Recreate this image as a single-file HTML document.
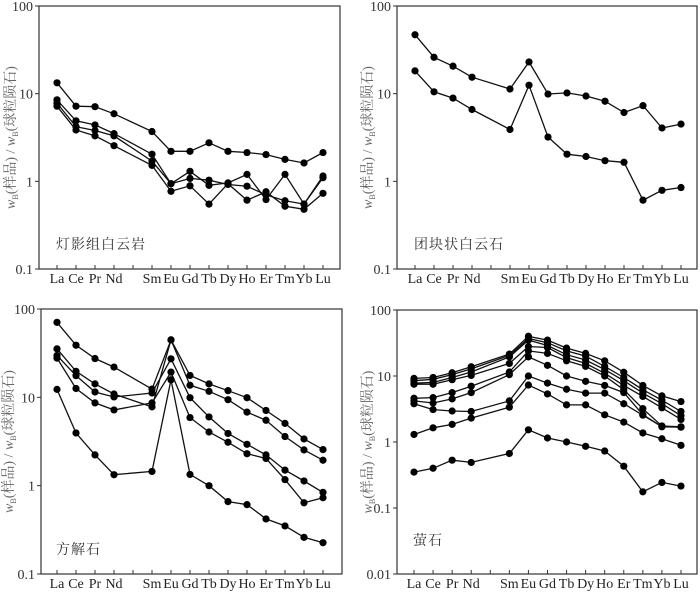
<!DOCTYPE html>
<html><head><meta charset="utf-8"><style>
html,body{margin:0;padding:0;background:#fff;}
svg{display:block;}
text{font-family:"Liberation Serif","Noto Serif CJK SC",serif;}
</style></head><body>
<svg id="chart" width="700" height="592" viewBox="0 0 700 592"></svg>
<script>
const elements = ["La","Ce","Pr","Nd","Sm","Eu","Gd","Tb","Dy","Ho","Er","Tm","Yb","Lu"];
const slotIndex = [0,1,2,3,5,6,7,8,9,10,11,12,13,14];
const xLabels = ["La","Ce","Pr","Nd","Sm","Eu","Gd","Tb","Dy","Ho","Er","Tm","Yb","Lu"];
const ticksA = [100,10,1,0.1];
const ticksB = [100,10,1,0.1,0.01];
const tickLabelsA = ["100","10","1","0.1"];
const tickLabelsB = ["100","10","1","0.1","0.01"];

const dengying1 = [13.3,7.2,7.1,5.9,3.7,2.2,2.2,2.75,2.2,2.13,2.02,1.78,1.62,2.13];
const dengying2 = [8.5,4.9,4.4,3.5,2.04,0.94,1.3,0.9,0.96,1.2,0.62,1.2,0.55,1.15];
const dengying3 = [7.8,4.2,3.8,3.3,1.7,0.94,1.08,1.03,0.92,0.88,0.7,0.6,0.55,1.1];
const dengying4 = [7.2,3.85,3.3,2.55,1.52,0.77,0.89,0.55,0.94,0.61,0.76,0.52,0.48,0.73];

const tuankuai1 = [47,26,20.6,15.4,11.3,23,9.9,10.2,9.4,8.2,6.1,7.3,4.06,4.5];
const tuankuai2 = [18.2,10.5,8.9,6.6,3.9,12.5,3.2,2.04,1.92,1.72,1.65,0.61,0.79,0.85];

const calcite1 = [70.6,38.9,27.5,22,12.4,44.7,17.7,14.2,11.9,9.9,7.1,5.07,3.38,2.56];
const calcite2 = [35.4,19.7,14.2,10.9,7.8,44.7,13.7,11.7,9.4,6.8,5.5,3.6,2.54,1.94];
const calcite3 = [29.8,17.6,11.5,10.1,11.2,27.3,9.9,6.0,3.9,2.94,2.23,1.5,1.13,0.84];
const calcite4 = [27.8,12.6,8.65,7.2,8.65,19.3,5.9,4.05,3.1,2.3,2.03,1.17,0.64,0.73];
const calcite5 = [12.3,3.95,2.23,1.33,1.45,15.8,1.34,1.0,0.66,0.61,0.42,0.35,0.26,0.226];

const fluorite1 = [9.2,9.5,11.2,13.8,21.5,40,35,26.5,22,17,11.4,7.2,5.0,4.1];
const fluorite2 = [8.5,8.9,10.5,12.8,20.5,37,32,24,20,14,9.5,6.2,4.3,2.9];
const fluorite3 = [7.8,8.0,9.5,11.5,19.5,35,29,21,17.5,12.5,8.5,5.5,3.8,2.5];
const fluorite4 = [7.5,7.5,8.8,10.2,15.5,28,27,19,15.5,11,7.2,4.9,3.3,2.2];
const fluorite5 = [4.6,4.7,5.6,7.0,11.5,24,22,17,14,10,6.2,3.2,1.75,1.7];
const fluorite6 = [4.2,3.9,4.5,5.6,10.5,19.5,14.5,10,8.3,7.2,5.6,2.6,1.7,1.68];
const fluorite7 = [3.8,3.1,2.95,2.9,4.2,10,7.8,6.3,5.5,5.5,3.8,2.55,1.72,1.68];
const fluorite8 = [1.3,1.64,1.85,2.3,3.37,7.3,5.35,3.65,3.65,2.58,2.0,1.37,1.12,0.89];
const fluorite9 = [0.35,0.40,0.53,0.49,0.67,1.53,1.15,1.0,0.86,0.73,0.43,0.176,0.244,0.215];

const NS="http://www.w3.org/2000/svg";
const svg=document.getElementById('chart');
function mk(tag,attrs,parent){const e=document.createElementNS(NS,tag);for(const k in attrs)e.setAttribute(k,attrs[k]);(parent||svg).appendChild(e);return e;}

function panel(cfg){
  const g=mk('g',{});
  
  
  const lmax=Math.log10(cfg.ymax), lmin=Math.log10(cfg.ymin);
  const yS=v=>cfg.top+(lmax-Math.log10(v))/(lmax-lmin)*(cfg.bottom-cfg.top);
  const xS=i=>cfg.xLa+cfg.step*i;
  const frame=mk('rect',{x:cfg.left,y:cfg.top,width:cfg.right-cfg.left,height:cfg.bottom-cfg.top,fill:'none',stroke:'#333','stroke-width':1.2},g);
  
  
  cfg.ticks.forEach((t,k)=>{
    const y=yS(t);
    mk('line',{x1:cfg.left-4,x2:cfg.left,y1:y,y2:y,stroke:'#333','stroke-width':1},g);
    const tl=mk('text',{x:cfg.left-6,y:y+5,'text-anchor':'end','font-size':14,fill:'#333'},g);
    tl.textContent=cfg.tickLabels[k];
    
    
  });
  for(let s=0;s<15;s++){
    const x=xS(s);
    mk('line',{x1:x,x2:x,y1:cfg.bottom,y2:cfg.bottom-4,stroke:'#333','stroke-width':1},g);
  }
  xLabels.forEach((lab,i)=>{
    const t=mk('text',{x:xS(slotIndex[i]),y:cfg.bottom+14,'text-anchor':'middle','font-size':14,fill:'#222'},g);
    t.textContent=lab;
    
    
  });
  const yt=mk('text',{x:0,y:0,'text-anchor':'middle','font-size':14,fill:'#666',transform:`translate(${cfg.titleX},${(cfg.top+cfg.bottom)/2}) rotate(-90)`},g);
  yt.innerHTML='<tspan font-style="italic">w</tspan><tspan font-size="8" dy="3">B</tspan><tspan dy="-3">(样品) / </tspan><tspan font-style="italic">w</tspan><tspan font-size="8" dy="3">B</tspan><tspan dy="-3">(球粒陨石)</tspan>';
  
  
  const pl=mk('text',{x:cfg.labelX,y:cfg.labelY,'font-size':14,fill:'#333','font-family':'"Noto Sans CJK SC",sans-serif','letter-spacing':'1'},g);
  pl.textContent=cfg.label;
  
  
  cfg.series.forEach((ser,si)=>{
    const pts=ser.map((v,i)=>xS(slotIndex[i]).toFixed(1)+','+yS(v).toFixed(1)).join(' ');
    const line=mk('polyline',{points:pts,fill:'none',stroke:'#111','stroke-width':1.3},g);
    
    
    ser.forEach((v,i)=>{
      const c=mk('circle',{cx:xS(slotIndex[i]),cy:yS(v),r:3.6,fill:'#000'},g);
      
      
    });
  });
}

panel({name:'panel-dengying-dolomite',left:39,right:340,top:6,bottom:269,ymax:100,ymin:0.1,xLa:57,step:19,ticks:ticksA,tickLabels:tickLabelsA,titleX:15,label:'灯影组白云岩',labelX:56,labelY:249,series:[dengying1,dengying2,dengying3,dengying4]});
panel({name:'panel-nodular-dolomite',left:397,right:697,top:6,bottom:269,ymax:100,ymin:0.1,xLa:415,step:19,ticks:ticksA,tickLabels:tickLabelsA,titleX:372,label:'团块状白云石',labelX:414,labelY:249,series:[tuankuai1,tuankuai2]});
panel({name:'panel-calcite',left:41,right:342,top:309,bottom:574,ymax:100,ymin:0.1,xLa:57,step:19,ticks:ticksA,tickLabels:tickLabelsA,titleX:13,label:'方解石',labelX:56,labelY:554,series:[calcite1,calcite2,calcite3,calcite4,calcite5]});
panel({name:'panel-fluorite',left:397,right:697,top:310,bottom:574,ymax:100,ymin:0.01,xLa:414,step:19.07,ticks:ticksB,tickLabels:tickLabelsB,titleX:372,label:'萤石',labelX:413,labelY:545,series:[fluorite1,fluorite2,fluorite3,fluorite4,fluorite5,fluorite6,fluorite7,fluorite8,fluorite9]});
</script>
</body></html>
